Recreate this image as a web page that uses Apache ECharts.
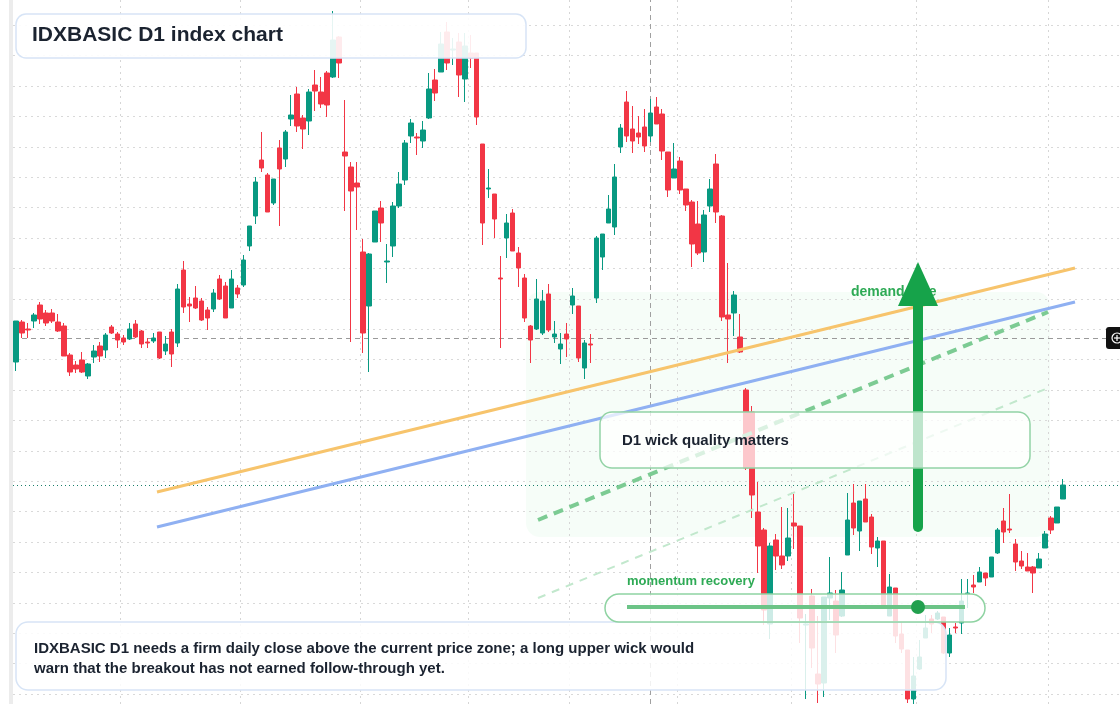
<!DOCTYPE html>
<html><head><meta charset="utf-8">
<script src="https://cdn.jsdelivr.net/npm/echarts@6/dist/echarts.min.js"></script>
<style>html,body{margin:0;padding:0;background:#fff}#c{width:1120px;height:704px}</style>
</head><body><div id="c"></div>
<script>
// OHLC as [open, close, low, high]
const candles = [
[638,679,629,679],[678,667,662,680],[671,670,662,677],[679,685,672,687],[695,681,676,698],
[687,677,674,690],[687,679,677,691],[678,669,668,686],[674,644,644,677],[645,628,624,647],
[635,631,627,639],[640,628,627,648],[624,636,621,637],[643,649,637,655],[654,644,638,658],
[650,665,642,667],[673,667,666,675],[666,660,652,668],[662,658,655,665],[661,671,660,677],
[676,663,662,680],[669,656,652,670],[658,657,652,662],[659,662,657,667],[668,642,641,668],
[649,656,645,664],[668,646,633,671],[657,711,653,716],[730,693,687,739],[696,694,678,703],
[702,692,691,714],[699,680,679,702],[690,682,670,693],[691,707,688,711],[721,701,700,725],
[714,682,682,718],[692,721,692,730],[712,706,702,715],[715,740,713,745],[754,774,749,774],
[784,818,776,823],[840,832,828,868],[825,788,788,827],[797,821,795,821],[852,831,774,860],
[841,868,833,870],[881,885,874,905],[906,874,868,913],[882,871,851,885],[879,908,865,911],
[915,909,889,930],[908,896,892,923],[927,895,883,929],[923,960,922,989],[963,937,922,964],
[848,844,789,900],[833,809,658,838],[817,813,770,838],[748,667,647,761],[694,746,628,747],
[758,789,758,789],[792,777,758,799],[738,739,717,756],[754,794,743,798],[794,816,792,828],
[820,857,815,860],[864,877,857,881],[863,862,845,867],[859,870,852,879],[882,911,881,927],
[920,907,899,931],[928,956,928,968],[968,937,930,978],[950,951,935,962],[958,925,903,967],
[921,954,898,967],[947,942,932,965],[947,883,875,947],[856,777,755,856],[811,812,802,831],
[806,781,762,806],[722,721,652,744],[762,777,742,786],[787,749,749,791],[747,732,713,753],
[722,682,678,726],[674,660,637,675],[671,701,670,721],[667,699,665,710],[706,670,668,716],
[663,666,657,679],[651,656,636,667],[666,661,643,677],[695,704,686,712],[694,642,638,694],
[632,657,621,660],[656,655,637,666],[702,762,697,764],[743,766,730,766],[777,791,777,805],
[773,823,765,836],[853,872,847,876],[898,864,858,909],[871,859,847,894],[867,863,856,884],
[873,854,848,891],[864,887,858,901],[893,876,876,903],[886,849,840,891],[848,810,803,848],
[822,831,822,857],[839,810,806,843],[811,795,789,811],[798,756,733,800],[776,747,745,799],
[748,785,738,790],[794,811,788,821],[836,788,777,846],[784,683,679,785],[685,681,637,737],
[687,705,664,709],[663,648,647,686],[610,532,530,612],[588,505,482,594],[488,454,427,518],
[470,390,375,472],[376,454,361,457],[460,444,430,466],[444,435,431,493],[444,462,439,492],
[477,474,451,506],[474,382,357,474],[375,376,301,386],[404,352,332,411],[326,316,297,384],
[317,403,303,403],[402,407,380,443],[399,365,347,410],[384,410,383,428],[445,480,445,507],
[497,472,465,516],[469,499,449,499],[501,478,478,516],[483,453,446,486],[452,459,433,463],
[459,392,391,459],[384,413,384,426],[412,364,357,412],[366,351,347,378],[350,301,297,350],
[301,324,296,343],[331,343,330,360],[362,372,362,385],[381,376,367,385],[381,387,380,389],
[383,347,346,383],[347,365,343,372],[373,372,367,377],[377,399,366,421],[406,407,392,421],
[415,413,407,425],[418,428,418,433],[427,422,414,427],[423,443,423,443],[447,470,446,472],
[479,468,457,492],[471,470,467,506],[456,438,429,461],[439,434,431,449],[433,429,429,447],
[433,427,407,434],[432,441,432,447],[452,466,452,469],[482,470,466,484],[477,493,477,493],
[501,515,501,521]
];
const totalSlots = 185;
const categories = [];
for (let i = 0; i < totalSlots; i++) categories.push('D' + (i + 1));
const monthStarts = [18, 38, 58, 76, 93, 111, 130, 151, 173];
const gridValues = [975,945,914,884,853,823,793,762,732,701,671,641,610,580,549,519,489,458,428,397,367,337,306];
const currentPrice = 662;
const lastClose = 515;
const crosshairIndex = 'D107';
const titleText = 'IDXBASIC D1 index chart';
const noteLines = ['IDXBASIC D1 needs a firm daily close above the current price zone; a long upper wick would',
                   'warn that the breakout has not earned follow-through yet.'];
const wickLabel = 'D1 wick quality matters';
const momentumLabel = 'momentum recovery';
const demandLabel = 'demand side';

const chart = echarts.init(document.getElementById('c'), null, {renderer: 'canvas'});
const msSet = new Set(monthStarts);
const F = '"Liberation Sans", Arial, sans-serif';
const gridLines = gridValues.map(v => ({yAxis: v, lineStyle: {color: '#d9d9d9', type: [2, 4], width: 1}}));
chart.setOption({
  animation: false,
  grid: {left: 13, top: 0, right: -3, bottom: 0},
  xAxis: {type: 'category', data: categories, boundaryGap: true,
    axisLine: {show: false}, axisTick: {show: false}, axisLabel: {show: false},
    splitLine: {show: true, interval: (i) => msSet.has(i), lineStyle: {color: '#d6d6d6', type: [2, 4]}}},
  yAxis: {type: 'value', min: 296, max: 1000,
    axisLine: {show: false}, axisTick: {show: false}, axisLabel: {show: false}, splitLine: {show: false}},
  series: [{
    type: 'candlestick', data: candles, barWidth: 5,
    itemStyle: {color: '#089981', color0: '#f23645', borderColor: '#089981', borderColor0: '#f23645', borderWidth: 1},
    markLine: {silent: true, symbol: 'none', label: {show: false}, z: 1,
      data: gridLines.concat([
        {yAxis: currentPrice, lineStyle: {color: '#9a9a9a', type: [5, 4], width: 1}},
        {yAxis: lastClose, lineStyle: {color: '#1a7f6a', type: [1, 3], width: 1}},
        {xAxis: crosshairIndex, lineStyle: {color: '#a0a0a0', type: [5, 4], width: 1}}
      ])}
  }],
  graphic: [
    {type: 'rect', left: 9, top: 0, shape: {width: 4, height: 704}, style: {fill: '#ececec'}, z: 1},
    {type: 'rect', shape: {x: 526, y: 292, width: 524, height: 245, r: 14}, style: {fill: 'rgba(214,244,222,0.22)'}, z: 0, silent: true},
    {type: 'line', shape: {x1: 157, y1: 492, x2: 1075, y2: 268}, style: {stroke: '#f7c46c', lineWidth: 3}, z: 10},
    {type: 'line', shape: {x1: 157, y1: 527, x2: 1075, y2: 302}, style: {stroke: '#8fb0f2', lineWidth: 3}, z: 10},
    {type: 'line', shape: {x1: 538, y1: 520, x2: 1048, y2: 312}, style: {stroke: '#7ccb93', lineWidth: 4, lineDash: [10, 7]}, z: 10},
    {type: 'line', shape: {x1: 538, y1: 598, x2: 1048, y2: 388}, style: {stroke: '#c2e8cd', lineWidth: 2, lineDash: [8, 7]}, z: 10},
    {type: 'line', shape: {x1: 918, y1: 527, x2: 918, y2: 300}, style: {stroke: '#16a34a', lineWidth: 10, lineCap: 'round'}, z: 12},
    {type: 'polygon', shape: {points: [[918, 262], [898, 306], [938, 306]]}, style: {fill: '#16a34a'}, z: 12},
    {type: 'text', left: 851, top: 285, style: {text: demandLabel, font: 'bold 14px ' + F, fill: '#2eaa55'}, z: 11},
    {type: 'rect', shape: {x: 600, y: 412, width: 430, height: 56, r: 12}, style: {fill: 'rgba(255,255,255,0.72)', stroke: '#93d3a6', lineWidth: 1.5}, z: 13},
    {type: 'text', left: 622, top: 433, style: {text: wickLabel, font: 'bold 15px ' + F, fill: '#1b2330'}, z: 14},
    {type: 'text', left: 627, top: 575, style: {text: momentumLabel, font: 'bold 13px ' + F, fill: '#2eaa55'}, z: 14},
    {type: 'rect', shape: {x: 16, y: 622, width: 930, height: 68, r: 12}, style: {fill: 'rgba(255,255,255,0.85)', stroke: '#d7e4f6', lineWidth: 1.5}, z: 13},
    {type: 'text', left: 34, top: 639, style: {text: noteLines.join('\n'), font: 'bold 15px ' + F, fill: '#1b2330', lineHeight: 20}, z: 14},
    {type: 'rect', shape: {x: 605, y: 594, width: 380, height: 28, r: 14}, style: {fill: 'rgba(255,255,255,0.8)', stroke: '#8fd3a2', lineWidth: 1.5}, z: 15},
    {type: 'line', shape: {x1: 627, y1: 607, x2: 965, y2: 607}, style: {stroke: '#6cc487', lineWidth: 4}, z: 16},
    {type: 'circle', shape: {cx: 918, cy: 607, r: 7}, style: {fill: '#22a04e'}, z: 16},
    {type: 'rect', shape: {x: 16, y: 14, width: 510, height: 44, r: 10}, style: {fill: 'rgba(255,255,255,0.9)', stroke: '#d7e4f6', lineWidth: 1.5}, z: 13},
    {type: 'text', left: 32, top: 25, style: {text: titleText, font: 'bold 21px ' + F, fill: '#1b2330'}, z: 14},
    {type: 'rect', shape: {x: 1106, y: 327, width: 20, height: 22, r: 3}, style: {fill: '#111'}, z: 14},
    {type: 'circle', shape: {cx: 1117, cy: 338, r: 5}, style: {fill: 'none', stroke: '#fff', lineWidth: 1.2}, z: 15},
    {type: 'line', shape: {x1: 1114, y1: 338, x2: 1120, y2: 338}, style: {stroke: '#fff', lineWidth: 1.2}, z: 15},
    {type: 'line', shape: {x1: 1117, y1: 335, x2: 1117, y2: 341}, style: {stroke: '#fff', lineWidth: 1.2}, z: 15}
  ]
});
</script></body></html>
